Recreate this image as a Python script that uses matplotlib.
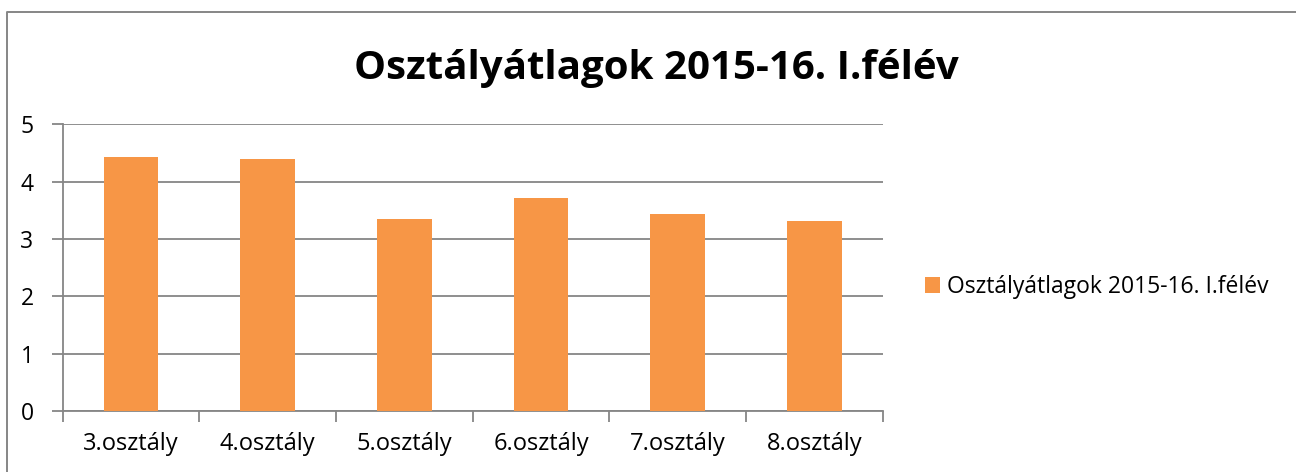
import matplotlib
matplotlib.use("Agg")
import matplotlib.pyplot as plt
from matplotlib.patches import Patch
from matplotlib.lines import Line2D
import numpy as np

categories = ["3.osztály", "4.osztály", "5.osztály", "6.osztály", "7.osztály", "8.osztály"]
values = [4.43, 4.40, 3.35, 3.72, 3.44, 3.31]
series_name = "Osztályátlagok 2015-16. I.félév"
title = "Osztályátlagok 2015-16. I.félév"
yticks = [0, 1, 2, 3, 4, 5]

plt.rcParams['font.family'] = ['Open Sans', 'DejaVu Sans']
bar_color = "#F79646"
grid_color = "#868686"

fig = plt.figure(figsize=(12.96, 4.72), dpi=100)
bx, by = 7 / 1296, 1 - 12 / 472
fig.lines.append(Line2D([bx, bx, 1.0], [0.0, by, by], transform=fig.transFigure,
                        color="#868686", linewidth=1.4))

ax = fig.add_axes([62.7/1296, (472-411)/472, (882.7-62.7)/1296, (411-124.3)/472])
x = np.arange(len(categories))
ax.bar(x, values, width=0.4, color=bar_color, zorder=3)
ax.set_xlim(-0.5, len(categories) - 0.5)
ax.set_ylim(0, 5)
ax.set_yticks(yticks)
ax.set_yticklabels([str(t) for t in yticks], fontsize=16.5)
ax.set_xticks(x)
ax.set_xticklabels(categories, fontsize=17)
ax.set_xticks(np.arange(len(categories) + 1) - 0.5, minor=True)
ax.tick_params(axis='x', which='major', length=0, pad=15)
ax.tick_params(axis='x', which='minor', length=8, color=grid_color, width=1.3)
ax.tick_params(axis='y', length=8, color=grid_color, width=1.3, pad=13)
ax.yaxis.grid(True, color=grid_color, linewidth=1.3, zorder=0)
ax.set_axisbelow(True)
for s in ['top', 'right']:
    ax.spines[s].set_visible(False)
for s in ['left', 'bottom']:
    ax.spines[s].set_color(grid_color)
    ax.spines[s].set_linewidth(1.3)

fig.text(656/1296, 1 - 68/472, title, ha='center', va='center', fontsize=29, fontweight='bold')

handle = Patch(facecolor=bar_color, edgecolor='none')
fig.legend([handle], [series_name], loc='center left', bbox_to_anchor=(925/1296, 1 - 287/472),
           frameon=False, fontsize=16.5, handlelength=0.65, handleheight=0.65, handletextpad=0.3,
           borderpad=0, borderaxespad=0)

fig.savefig("out.png", dpi=100)
